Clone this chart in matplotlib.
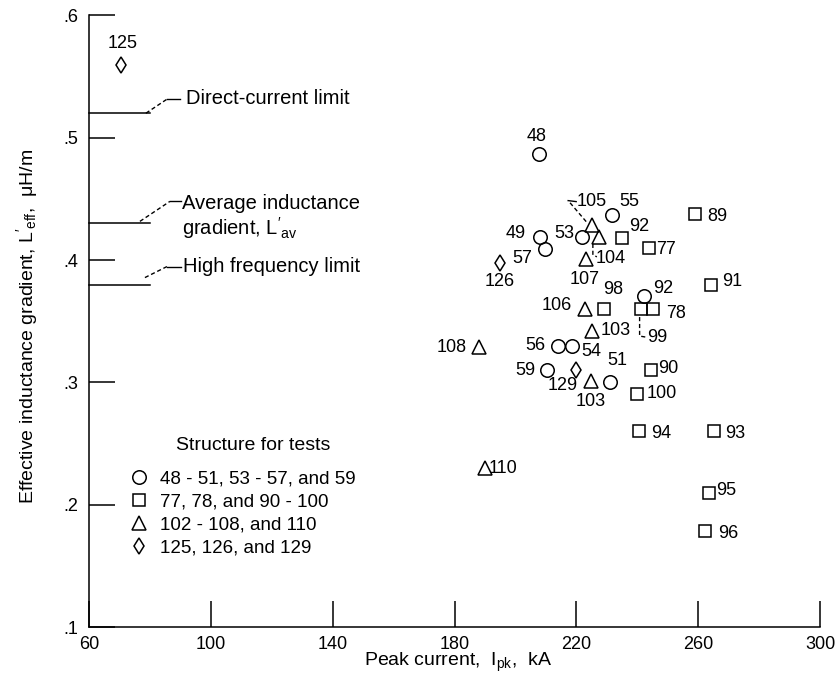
import matplotlib
matplotlib.use("Agg")
import matplotlib.pyplot as plt
import matplotlib.transforms as mtransforms

plt.rcParams["font.family"] = ["Liberation Sans", "DejaVu Sans"]
plt.rcParams["mathtext.fontset"] = "custom"
plt.rcParams["mathtext.rm"] = "Liberation Sans"
plt.rcParams["mathtext.it"] = "Liberation Sans"
plt.rcParams["mathtext.bf"] = "Liberation Sans:bold"

# ---- data: test number, peak current (kA), effective inductance gradient (uH/m)
circle_tests = ["48", "49", "57", "53", "55", "92", "56", "54", "59", "51"]
circle_current = [207.7, 208.1, 209.7, 222.0, 231.8, 242.1, 214.1, 218.7, 210.3, 231.0]
circle_gradient = [0.487, 0.419, 0.409, 0.419, 0.437, 0.371, 0.330, 0.330, 0.310, 0.300]

square_tests = ["92", "89", "77", "91", "98", "99", "78", "90", "100", "94", "93", "95", "96"]
square_current = [234.9, 259.0, 243.9, 264.2, 229.2, 241.1, 245.3, 244.4, 240.0, 240.6, 265.2, 263.4, 262.2]
square_gradient = [0.418, 0.438, 0.410, 0.380, 0.360, 0.360, 0.360, 0.310, 0.291, 0.260, 0.260, 0.210, 0.179]

triangle_tests = ["105", "104", "107", "106", "103", "108", "103", "110"]
triangle_current = [225.2, 227.4, 223.1, 222.8, 225.2, 188.1, 224.8, 190.0]
triangle_gradient = [0.429, 0.419, 0.401, 0.360, 0.342, 0.329, 0.301, 0.230]

diamond_tests = ["125", "126", "129"]
diamond_current = [70.5, 194.9, 219.9]
diamond_gradient = [0.559, 0.398, 0.310]

legend_labels = ["48 - 51, 53 - 57, and 59", "77, 78, and 90 - 100",
                 "102 - 108, and 110", "125, 126, and 129"]

# reference gradients marked on the ordinate
limit_names = ["dc", "avg", "hf"]
limit_values = [0.52, 0.43, 0.38]
limit_span = [60, 80]

x_ticks = [60, 100, 140, 180, 220, 260, 300]
x_ticklabels = ["60", "100", "140", "180", "220", "260", "300"]
y_ticks = [0.1, 0.2, 0.3, 0.4, 0.5, 0.6]
y_ticklabels = [".1", ".2", ".3", ".4", ".5", ".6"]

# ---- label placement (pixel offsets from each marker)
circle_offsets = [(-2, 17), (-24, 3), (-23, -9), (-18, 3), (17, 13), (20, 7),
                  (-23, 0), (19, -6), (-21, 0), (7, 22)]
square_offsets = [(17, 12), (22, -3), (17, -2), (21, 3), (9, 20), (17, -28),
                  (23, -4), (18, 2), (24, 0), (22, -2), (21, -2), (18, 2), (23, -3)]
triangle_offsets = [(0, 23), (12, -22), (-1, -21), (-28, 4), (24, 1), (-27, 0),
                    (0, -20), (18, 0)]
diamond_offsets = [(2, 22), (0, -19), (-13, -15)]

NUM_FS = 13
LW = 1.1

fig = plt.figure(figsize=(8.38, 6.86), dpi=100)
ax = fig.add_axes([89 / 838, 1 - 627.3 / 686, 731 / 838, 612 / 686])

ax.set_xlim(60, 300)
ax.set_ylim(0.1, 0.6)
for side in ("top", "right"):
    ax.spines[side].set_visible(False)
for side in ("left", "bottom"):
    ax.spines[side].set_linewidth(LW)

ax.set_xticks(x_ticks)
ax.set_xticklabels(x_ticklabels)
ax.set_yticks(y_ticks)
ax.set_yticklabels(y_ticklabels)
ax.tick_params(direction="in", length=18.7, width=LW, labelsize=NUM_FS)
ax.tick_params(axis="x", pad=6)
ax.tick_params(axis="y", pad=8)

series = [
    (circle_tests, circle_current, circle_gradient, circle_offsets, "o", 9.7),
    (square_tests, square_current, square_gradient, square_offsets, "s", 8.6),
    (triangle_tests, triangle_current, triangle_gradient, triangle_offsets, "^", 9.4),
    (diamond_tests, diamond_current, diamond_gradient, diamond_offsets, "d", 7.7),
]

handles = []
for (tests, cur, grad, offs, marker, ms), lab in zip(series, legend_labels):
    h, = ax.plot(cur, grad, ls="none", marker=marker, ms=ms, mfc="none",
                 mec="black", mew=LW, clip_on=False, label=lab)
    handles.append(h)
    for t, x, y, (dx, dy) in zip(tests, cur, grad, offs):
        ax.annotate(t, xy=(x, y), xytext=(dx, dy), textcoords="offset pixels",
                    ha="center", va="center", fontsize=NUM_FS)


def leader(x, y, pts, ls="--"):
    """Polyline given in pixel offsets from a data point."""
    tr = fig.dpi_scale_trans + mtransforms.ScaledTranslation(x, y, ax.transData)
    xs = [p[0] / fig.dpi for p in pts]
    ys = [p[1] / fig.dpi for p in pts]
    ax.plot(xs, ys, transform=tr, color="black", lw=LW * 0.9, ls=ls,
            dashes=(3, 2) if ls == "--" else (None, None), clip_on=False)


# leaders for crowded test labels
leader(triangle_current[0], triangle_gradient[0], [(-6, 3), (-24, 24)])
leader(triangle_current[0], triangle_gradient[0], [(-24, 24), (-16, 23)], ls="-")
leader(triangle_current[1], triangle_gradient[1], [(-6, -7), (-6, -18), (-2, -20)])
leader(square_current[5], square_gradient[5], [(-1, -8), (-1, -27), (5, -28)])

# reference gradient lines on the ordinate
for name, v in zip(limit_names, limit_values):
    ax.plot(limit_span, [v, v], color="black", lw=LW, clip_on=False)

ANN_FS = 14.5
x_end = limit_span[1]
leader(x_end, limit_values[0], [(-4, 0), (17, 14)])
leader(x_end, limit_values[0], [(17, 14), (30, 14)], ls="-")
ax.annotate("Direct-current limit", xy=(x_end, limit_values[0]), xytext=(36, 15),
            textcoords="offset pixels", ha="left", va="center", fontsize=ANN_FS)

leader(x_end, limit_values[1], [(-10, 2), (20, 22)])
leader(x_end, limit_values[1], [(20, 22), (31, 22)], ls="-")
ax.annotate("Average inductance", xy=(x_end, limit_values[1]), xytext=(32, 20),
            textcoords="offset pixels", ha="left", va="center", fontsize=ANN_FS)
ax.annotate("gradient, $\\mathrm{L'_{av}}$", xy=(x_end, limit_values[1]), xytext=(32, -5),
            textcoords="offset pixels", ha="left", va="center", fontsize=ANN_FS)

leader(x_end, limit_values[2], [(-5, 7), (17, 18)])
leader(x_end, limit_values[2], [(17, 18), (31, 18)], ls="-")
ax.annotate("High frequency limit", xy=(x_end, limit_values[2]), xytext=(33, 18),
            textcoords="offset pixels", ha="left", va="center", fontsize=ANN_FS)

# legend
ax.text((253 - 89) / 731, (627.3 - 445) / 612, "Structure for tests",
        transform=ax.transAxes, ha="center", va="center", fontsize=14)
ax.legend(handles=handles, loc="upper left", bbox_to_anchor=(0.0329, 0.2837),
          frameon=False, fontsize=13.5, handlelength=1.0, handletextpad=0.6,
          labelspacing=0.31, borderpad=0.4, numpoints=1)

ax.set_xlabel("Peak current,  $\\mathrm{I_{pk}}$,  kA", fontsize=14, va="center")
ax.xaxis.set_label_coords(0.505, -0.058)
ax.set_ylabel("Effective inductance gradient, $\\mathrm{L'_{eff}}$,  \u03bcH/m",
              fontsize=14, va="center", ha="center")
ax.yaxis.set_label_coords(-0.0848, 0.492)

fig.savefig("out.png", dpi=100)
